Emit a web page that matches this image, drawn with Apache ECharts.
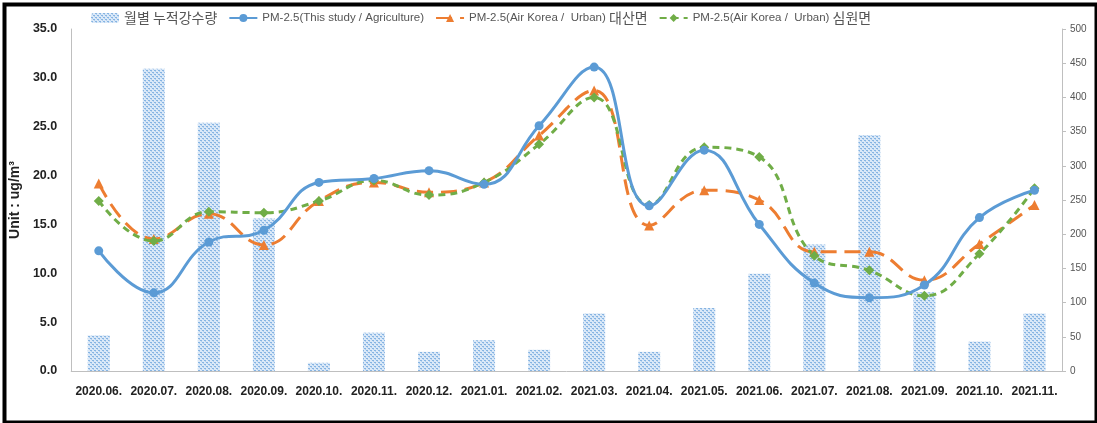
<!DOCTYPE html>
<html>
<head>
<meta charset="utf-8">
<script src="https://cdn.jsdelivr.net/npm/echarts@6/dist/echarts.min.js"></script>
<style>
html,body{margin:0;padding:0;background:#fff;}
#chart{width:1097px;height:423px;}
</style>
</head>
<body>
<div id="chart"></div>
<script>
const categories = ['2020.06.','2020.07.','2020.08.','2020.09.','2020.10.','2020.11.','2020.12.','2021.01.','2021.02.','2021.03.','2021.04.','2021.05.','2021.06.','2021.07.','2021.08.','2021.09.','2021.10.','2021.11.'];
const rainfall = [52, 442, 363, 223, 12, 56, 28, 45, 31, 84, 28, 92, 142, 185, 345, 115, 43, 84];
const pmThisStudy = [12.3, 8.0, 13.2, 14.4, 19.3, 19.7, 20.5, 19.1, 25.1, 31.1, 16.9, 22.6, 15.0, 9.0, 7.5, 8.8, 15.7, 18.5];
const pmDaesan = [19.2, 13.5, 16.1, 12.9, 17.4, 19.3, 18.3, 19.3, 24.1, 28.7, 14.9, 18.5, 17.5, 12.2, 12.2, 9.3, 13.0, 17.0];
const pmSimwon = [17.4, 13.3, 16.3, 16.2, 17.4, 19.5, 18.0, 19.3, 23.2, 28.0, 17.0, 22.9, 21.9, 11.8, 10.3, 7.7, 12.0, 18.7];
const leftTicks = {min: 0, max: 35, interval: 5};
const rightTicks = {min: 0, max: 500, interval: 50};
const seriesNames = ['월별 누적강수량', 'PM-2.5(This study / Agriculture)', 'PM-2.5(Air Korea /  Urban) 대산면', 'PM-2.5(Air Korea /  Urban) 심원면'];

// dotted pattern for bars
const pat = document.createElement('canvas');
pat.width = 4; pat.height = 4;
const pc = pat.getContext('2d');
pc.fillStyle = '#dbe9f8'; pc.fillRect(0,0,4,4);
pc.fillStyle = '#86b4e2';
pc.fillRect(0,0,2,1); pc.fillRect(2,2,2,1);
pc.fillStyle = '#b3d0ef';
pc.fillRect(1,1,1,1); pc.fillRect(3,3,1,1);

const numFont = '"Liberation Sans","DejaVu Sans",sans-serif';
const krFont = '"Noto Sans CJK KR",sans-serif';

// split legend names into Latin / Korean runs so each can be sized separately
function legendFormatter(name) {
  const parts = name.match(/[\uAC00-\uD7A3]+|[^\uAC00-\uD7A3]+/g) || [name];
  return parts.map(p => /[\uAC00-\uD7A3]/.test(p) ? '{k|' + p + '}' : '{a|' + p + '}').join('');
}

const chart = echarts.init(document.getElementById('chart'));
chart.setOption({
  animation: false,
  backgroundColor: '#fff',
  graphic: [{
    type: 'rect', left: 2, top: 2,
    shape: {width: 1092, height: 418},
    style: {fill: 'none', stroke: '#000', lineWidth: 4},
    z: 100
  }],
  legend: {
    left: 86, top: 6,
    itemGap: 11, itemWidth: 28, itemHeight: 10,
    formatter: legendFormatter,
    textStyle: {
      color: '#555',
      rich: {
        a: {fontFamily: numFont, fontSize: 11.5, color: '#555'},
        k: {fontFamily: krFont, fontSize: 14, color: '#555'}
      }
    },
    data: seriesNames
  },
  grid: {left: 70, right: 35, top: 29, bottom: 52},
  xAxis: {
    type: 'category', data: categories, boundaryGap: true,
    axisLine: {lineStyle: {color: '#bfbfbf'}},
    axisTick: {show: false},
    axisLabel: {fontFamily: numFont, fontWeight: 'bold', fontSize: 12, color: '#222', margin: 15, interval: 0}
  },
  yAxis: [{
    type: 'value', min: leftTicks.min, max: leftTicks.max, interval: leftTicks.interval,
    name: 'Unit : ug/m³', nameLocation: 'middle', nameGap: 45, nameRotate: 90,
    nameTextStyle: {fontFamily: numFont, fontWeight: 'bold', fontSize: 14, color: '#222'},
    axisLine: {show: true, lineStyle: {color: '#bfbfbf'}},
    axisTick: {show: false},
    splitLine: {show: false},
    axisLabel: {fontFamily: numFont, fontWeight: 'bold', fontSize: 12.5, color: '#222', margin: 14,
      formatter: v => v.toFixed(1)}
  }, {
    type: 'value', min: rightTicks.min, max: rightTicks.max, interval: rightTicks.interval,
    position: 'right',
    axisLine: {show: true, lineStyle: {color: '#bfbfbf'}},
    axisTick: {show: true, inside: false, length: 4, lineStyle: {color: '#bfbfbf'}},
    splitLine: {show: false},
    axisLabel: {fontFamily: numFont, fontSize: 10, color: '#555', margin: 8}
  }],
  series: [{
    name: seriesNames[0], type: 'bar', yAxisIndex: 1, data: rainfall,
    barWidth: 22,
    itemStyle: {color: {image: pat, repeat: 'repeat'}},
    z: 1
  }, {
    name: seriesNames[1], type: 'line', yAxisIndex: 0, data: pmThisStudy,
    smooth: 0.45, symbol: 'circle', symbolSize: 9,
    lineStyle: {color: '#5b9bd5', width: 3},
    itemStyle: {color: '#5b9bd5'},
    z: 4
  }, {
    name: seriesNames[2], type: 'line', yAxisIndex: 0, data: pmDaesan,
    smooth: 0.45, symbol: 'triangle', symbolSize: 10,
    lineStyle: {color: '#ed7d31', width: 3, type: [16, 8]},
    itemStyle: {color: '#ed7d31'},
    z: 3
  }, {
    name: seriesNames[3], type: 'line', yAxisIndex: 0, data: pmSimwon,
    smooth: 0.45, symbol: 'diamond', symbolSize: 10,
    lineStyle: {color: '#70ad47', width: 3, type: [7, 5]},
    itemStyle: {color: '#70ad47'},
    z: 3
  }]
});
</script>
</body>
</html>
